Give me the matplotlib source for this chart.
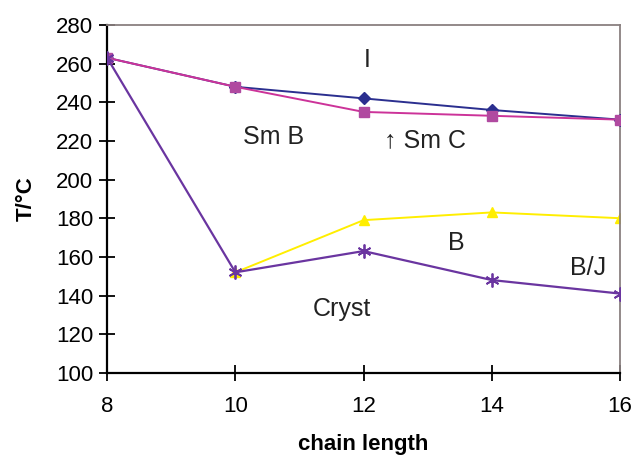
import matplotlib.pyplot as plt

chain = [8, 10, 12, 14, 16]
t_iso = [263, 248, 242, 236, 231]
t_smc = [263, 248, 235, 233, 231]
chain_b = [10, 12, 14, 16]
t_b = [152, 179, 183, 180]
t_cryst = [263, 152, 163, 148, 141]

x_ticks = [8, 10, 12, 14, 16]
y_ticks = list(range(100, 281, 20))

plt.rcParams['font.family'] = ['Liberation Sans', 'DejaVu Sans']

fig = plt.figure(figsize=(6.34, 4.62), dpi=100)
ax = fig.add_axes([0.169, 0.193, 0.809, 0.753])

ax.plot(chain, t_iso, color="#2b2f8f", marker="D", markersize=6, lw=1.4, zorder=3)
ax.plot(chain, t_smc, color="#cc3399", marker="s", markersize=7,
        markerfacecolor="#b04aa0", markeredgecolor="#b04aa0", lw=1.4, zorder=3)
ax.plot(chain_b, t_b, color="#ffee00", marker="^", markersize=7, lw=1.4, zorder=2)
ax.plot(chain, t_cryst, color="#6a35a0", marker=(6, 2, 0), markersize=10,
        markeredgewidth=1.3, lw=1.6, zorder=4)

labels = [("I", 12.05, 262), ("Sm B", 10.6, 222), ("\u2191 Sm C", 12.95, 220.5),
          ("B", 13.45, 167), ("B/J", 15.5, 154), ("Cryst", 11.66, 133)]
for txt, x, y in labels:
    ax.text(x, y, txt, fontsize=18, ha="center", va="center", color="#222222")

ax.set_xlim(8, 16)
ax.set_ylim(100, 280)
ax.set_xticks(x_ticks)
ax.set_yticks(y_ticks)
ax.tick_params(direction="inout", length=12, width=1.3, labelsize=16, pad=4)
ax.tick_params(axis="x", pad=11)

for s in ["left", "bottom"]:
    ax.spines[s].set_linewidth(1.6)
    ax.spines[s].set_color("black")
for s in ["top", "right"]:
    ax.spines[s].set_linewidth(1.3)
    ax.spines[s].set_color("#8a8080")

ax.set_xlabel("chain length", fontsize=16, fontweight="bold", labelpad=12)
ax.set_ylabel("T/°C", fontsize=16, fontweight="bold", labelpad=14)

fig.savefig("out.png", dpi=100)
